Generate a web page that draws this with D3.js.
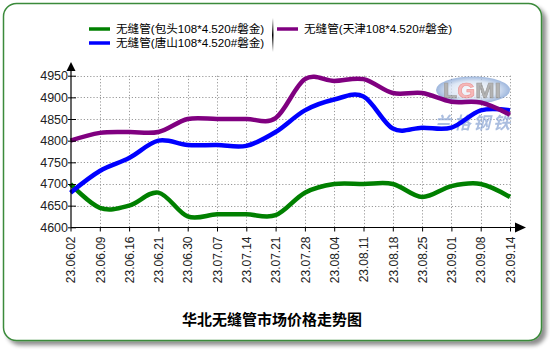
<!DOCTYPE html>
<html>
<head>
<meta charset="utf-8">
<script src="https://cdn.jsdelivr.net/npm/d3@7/dist/d3.min.js"></script>
<style>
  html, body { margin: 0; padding: 0; background: #fff; }
  svg { display: block; font-family: "Liberation Sans", Arial, "Noto Sans CJK SC", sans-serif; }
</style>
</head>
<body>
<svg id="chart" width="550" height="350"></svg>
<script>
// Weekly dates (x categories)
const dates = ["23.06.02","23.06.09","23.06.16","23.06.21","23.06.30","23.07.07","23.07.14","23.07.21",
               "23.07.28","23.08.04","23.08.11","23.08.18","23.08.25","23.09.01","23.09.08","23.09.14"];

// Seamless tube prices, yuan/t
const baotou  = [4700,4645,4650,4680,4625,4630,4630,4628,4680,4700,4700,4700,4670,4695,4700,4670];
const tangshan = [4680,4730,4760,4800,4790,4790,4788,4820,4870,4895,4902,4828,4830,4830,4870,4870];
const tianjin = [4800,4818,4820,4820,4850,4850,4850,4852,4942,4938,4942,4910,4910,4890,4888,4860];

const seriesNames = ["无缝管(包头108*4.520#磐金)", "无缝管(唐山108*4.520#磐金)", "无缝管(天津108*4.520#磐金)"];
const seriesColors = ["#008000", "#0000ff", "#800080"];
const yTicks = [4600,4650,4700,4750,4800,4850,4900,4950];
const title = "华北无缝管市场价格走势图";

const svg = d3.select("#chart");
const defs = svg.append("defs");

// Frame with soft drop shadow
const shadow = defs.append("filter").attr("id", "shadow").attr("x", "-5%").attr("y", "-5%").attr("width", "115%").attr("height", "115%");
shadow.append("feGaussianBlur").attr("in", "SourceAlpha").attr("stdDeviation", 2.2).attr("result", "b");
shadow.append("feOffset").attr("dx", 4).attr("dy", 4).attr("result", "o");
shadow.append("feComponentTransfer").append("feFuncA").attr("type", "linear").attr("slope", 0.45);
const merge = shadow.append("feMerge");
merge.append("feMergeNode");
merge.append("feMergeNode").attr("in", "SourceGraphic");

svg.append("rect")
  .attr("x", 3.5).attr("y", 3.5).attr("width", 538).attr("height", 337).attr("rx", 13)
  .attr("fill", "#fff").attr("stroke", "#3a8a3a").attr("stroke-width", 1.5)
  .attr("filter", "url(#shadow)");

// Scales
const x = d3.scalePoint().domain(dates).range([70.5, 510]);
const y = d3.scaleLinear().domain([4600, 4950]).range([227.3, 75.7]);

// Grid
const grid = svg.append("g").attr("stroke", "#999").attr("stroke-dasharray", "1.2,2").attr("stroke-width", 1);
grid.selectAll("line.h").data(yTicks.slice(1)).join("line")
  .attr("x1", 71).attr("x2", 510).attr("y1", d => Math.round(y(d)) + 0.5).attr("y2", d => Math.round(y(d)) + 0.5);
grid.selectAll("line.v").data(dates.slice(1)).join("line")
  .attr("x1", d => Math.round(x(d)) + 0.5).attr("x2", d => Math.round(x(d)) + 0.5).attr("y1", 75.7).attr("y2", 227);

// Watermark logo
const logo = svg.append("g").attr("opacity", 0.75);
const lg = defs.append("radialGradient").attr("id", "logoGrad");
lg.append("stop").attr("offset", "0%").attr("stop-color", "#ffffff");
lg.append("stop").attr("offset", "65%").attr("stop-color", "#d3e0f2");
lg.append("stop").attr("offset", "100%").attr("stop-color", "#7e9fd2");
logo.append("ellipse").attr("cx", 473).attr("cy", 90).attr("rx", 37).attr("ry", 13.5).attr("fill", "url(#logoGrad)");
const lt = logo.append("text").attr("x", 443).attr("y", 98)
  .attr("font-size", 22).attr("font-weight", "bold").attr("font-family", "Liberation Sans, Arial")
  .attr("textLength", 58).attr("lengthAdjust", "spacingAndGlyphs").attr("fill", "#9a9a9a")
  .attr("stroke", "#7a7a7a").attr("stroke-width", 0.6);
lt.append("tspan").text("L");
lt.append("tspan").attr("fill", "#f4a0a0").attr("stroke", "#e07070").text("G");
lt.append("tspan").text("MI");
logo.append("text").attr("x", 434).attr("y", 129)
  .attr("font-size", 17).attr("font-weight", "bold").attr("font-style", "italic")
  .attr("textLength", 76).attr("lengthAdjust", "spacing")
  .attr("font-family", "Noto Sans CJK SC").attr("fill", "#8fa9d6").text("兰格钢铁");

// Series lines
const line = d3.line().x((d, i) => x(dates[i])).y(d => y(d)).curve(d3.curveCardinal.tension(0));
[baotou, tangshan, tianjin].forEach((vals, i) => {
  svg.append("path").datum(vals).attr("d", line)
    .attr("fill", "none").attr("stroke", seriesColors[i]).attr("stroke-width", 4.5)
    .attr("stroke-linejoin", "round").attr("stroke-linecap", "butt");
});

// Axes
const ax = svg.append("g").attr("stroke", "#000").attr("stroke-width", 1.2);
ax.append("line").attr("x1", 71).attr("x2", 71).attr("y1", 68).attr("y2", 227.5);
ax.append("line").attr("x1", 71).attr("x2", 518).attr("y1", 227.5).attr("y2", 227.5);
svg.append("path").attr("d", "M71,62 L75.5,71 L66.5,71 Z").attr("fill", "#000");
svg.append("path").attr("d", "M526,227.5 L515,222.5 L515,232.5 Z").attr("fill", "#000");

// Y axis ticks and labels
const yAxis = d3.axisLeft(y).tickValues(yTicks).tickFormat(d3.format("d")).tickSize(0).tickPadding(3);
const yg = svg.append("g").attr("transform", "translate(71,0)").call(yAxis);
yg.select(".domain").remove();
yg.selectAll(".tick").append("line").attr("x1", -3).attr("x2", 5).attr("stroke", "#000");
yg.selectAll("text").attr("font-size", 12.5).attr("fill", "#222")
  .attr("font-family", "Liberation Sans, Arial");

// X axis ticks and labels
const xAxis = d3.axisBottom(x).tickSize(4).tickPadding(4);
const xg = svg.append("g").attr("transform", "translate(0,227.5)").call(xAxis);
xg.select(".domain").remove();
xg.selectAll("text").attr("font-size", 12).attr("fill", "#222").attr("font-family", "Liberation Sans, Arial")
  .attr("transform", "rotate(-90)").attr("text-anchor", "end")
  .attr("x", -9).attr("y", 0).attr("dy", "0.35em");

// Legend
const legendPos = [[89, 29], [89, 43], [277, 29]];
seriesNames.forEach((name, i) => {
  const [lx, ly] = legendPos[i];
  svg.append("line").attr("x1", lx).attr("x2", lx + 21).attr("y1", ly).attr("y2", ly)
    .attr("stroke", seriesColors[i]).attr("stroke-width", 3.5);
  svg.append("text").attr("x", lx + 27).attr("y", ly).attr("dy", "0.36em")
    .attr("font-size", 11.6).attr("fill", "#000").text(name);
});
const sep = defs.append("linearGradient").attr("id", "sepGrad").attr("x1", 0).attr("x2", 0).attr("y1", 0).attr("y2", 1);
sep.append("stop").attr("offset", "0%").attr("stop-color", "#fff");
sep.append("stop").attr("offset", "50%").attr("stop-color", "#000");
sep.append("stop").attr("offset", "100%").attr("stop-color", "#fff");
svg.append("rect").attr("x", 272).attr("y", 18).attr("width", 1.5).attr("height", 34).attr("fill", "url(#sepGrad)");

// Title
svg.append("text").attr("x", 272).attr("y", 325).attr("text-anchor", "middle")
  .attr("font-size", 15).attr("font-weight", "bold").attr("font-family", "Noto Sans CJK SC")
  .attr("fill", "#000").text(title);
</script>
</body>
</html>
